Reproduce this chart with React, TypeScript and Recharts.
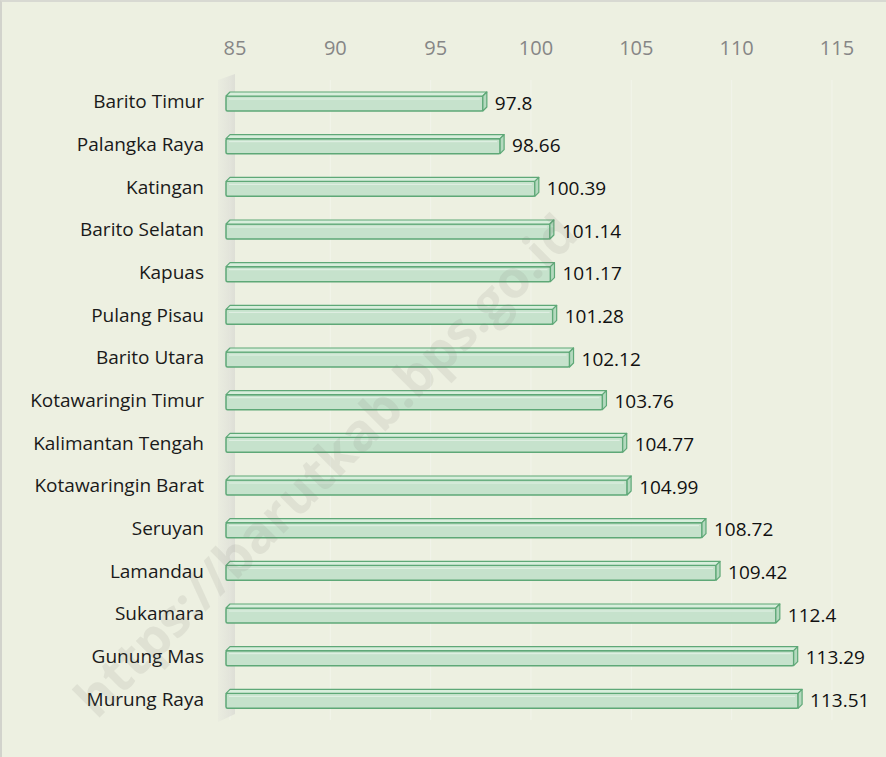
import React from "react";
import {
  Bar,
  BarChart,
  CartesianGrid,
  LabelList,
  ReferenceArea,
  XAxis,
  YAxis,
} from "recharts";

const regions = [
  "Barito Timur",
  "Palangka Raya",
  "Katingan",
  "Barito Selatan",
  "Kapuas",
  "Pulang Pisau",
  "Barito Utara",
  "Kotawaringin Timur",
  "Kalimantan Tengah",
  "Kotawaringin Barat",
  "Seruyan",
  "Lamandau",
  "Sukamara",
  "Gunung Mas",
  "Murung Raya",
];

const values = [
  97.8, 98.66, 100.39, 101.14, 101.17, 101.28, 102.12, 103.76, 104.77, 104.99,
  108.72, 109.42, 112.4, 113.29, 113.51,
];

const xTicks = [85, 90, 95, 100, 105, 110, 115];

const data = regions.map((name, i) => ({ name, value: values[i] }));

const font = "'Open Sans', sans-serif";

// bar drawn as a flat 3D box: front face, top strip and end cap
function BoxBar(props: any) {
  const { x, y, width, height } = props;
  if (width == null || height == null) return null;
  const d = 4;
  const x0 = x - 4;
  const xe = x + width;
  const stroke = "#5ea877";
  return (
    <g>
      <rect x={x0} y={y + d} width={xe - d - x0} height={height - d} fill="#c6e2cc" stroke={stroke} strokeWidth={1.5} rx={1.5} />
      <line x1={x0 + 3} y1={y + d + 3} x2={xe - d - 3} y2={y + d + 3} stroke="#e2f1e5" strokeWidth={1} />
      <polygon
        points={`${x0},${y + d} ${x0 + d},${y} ${xe},${y} ${xe - d},${y + d}`}
        fill="#d8eedc"
        stroke={stroke}
        strokeWidth={1.2}
        strokeLinejoin="round"
      />
      <polygon
        points={`${xe - d},${y + d} ${xe},${y} ${xe},${y + height - d} ${xe - d},${y + height}`}
        fill="#b4d9be"
        stroke={stroke}
        strokeWidth={1.2}
        strokeLinejoin="round"
      />
    </g>
  );
}

function Wall(props: any) {
  const { x, y, height } = props;
  return (
    <polygon
      points={`${x - 12},${y} ${x + 5},${y - 6} ${x + 5},${y + height - 6} ${x - 12},${y + height + 2}`}
      fill="url(#wallGrad)"
    />
  );
}

function CategoryTick(props: any) {
  const { y, payload } = props;
  return (
    <text x={202} y={y} textAnchor="end" dominantBaseline="central" fontFamily={font} fontSize={19} fill="#1a1a1a">
      {payload.value}
    </text>
  );
}

function ValueTick(props: any) {
  const { x, payload } = props;
  return (
    <text x={x + 5} y={45} textAnchor="middle" dominantBaseline="central" fontFamily={font} fontSize={20} fill="#868686">
      {payload.value}
    </text>
  );
}

function ValueLabel(props: any) {
  const { x, y, width, height, value } = props;
  return (
    <text x={x + width + 8} y={y + height / 2 + 1} dominantBaseline="central" fontFamily={font} fontSize={19} fill="#111">
      {value}
    </text>
  );
}

export default function App() {
  return (
    <div
      style={{
        position: "absolute",
        left: 0,
        top: 0,
        width: 886,
        height: 757,
        background: "#edf0e1",
        borderLeft: "2px solid #d2d3cc",
        borderTop: "2px solid #d8d9d2",
        boxSizing: "border-box",
        overflow: "hidden",
      }}
    >
      <BarChart
        width={884}
        height={755}
        data={data}
        layout="vertical"
        margin={{ top: 0, right: 54, bottom: 37, left: 0 }}
        barSize={19}
      >
        <defs>
          <linearGradient id="wallGrad" x1="0" y1="0" x2="1" y2="0">
            <stop offset="0%" stopColor="#e2e3dc" stopOpacity={0.3} />
            <stop offset="100%" stopColor="#dcddd5" stopOpacity={0.9} />
          </linearGradient>
        </defs>
        <CartesianGrid horizontal={false} stroke="#f2f4ea" strokeWidth={1} />
        <XAxis
          type="number"
          orientation="top"
          domain={[85, 115]}
          ticks={xTicks}
          height={78}
          axisLine={false}
          tickLine={false}
          tick={<ValueTick />}
        />
        <YAxis
          type="category"
          dataKey="name"
          width={228}
          axisLine={false}
          tickLine={false}
          interval={0}
          tick={<CategoryTick />}
        />
        <ReferenceArea x1={85} x2={85.2} shape={<Wall />} />
        <Bar dataKey="value" shape={<BoxBar />} isAnimationActive={false}>
          <LabelList dataKey="value" content={<ValueLabel />} />
        </Bar>
      </BarChart>
      <svg width={886} height={757} style={{ position: "absolute", left: 0, top: 0, pointerEvents: "none" }}>
        <text
          x={322}
          y={462}
          textAnchor="middle"
          dominantBaseline="central"
          transform="rotate(-45 322 462)"
          fontFamily={font}
          fontWeight="bold"
          fontSize={52}
          fill="#7a7f74"
          fillOpacity={0.12}
        >
          https://barutkab.bps.go.id
        </text>
      </svg>
    </div>
  );
}
